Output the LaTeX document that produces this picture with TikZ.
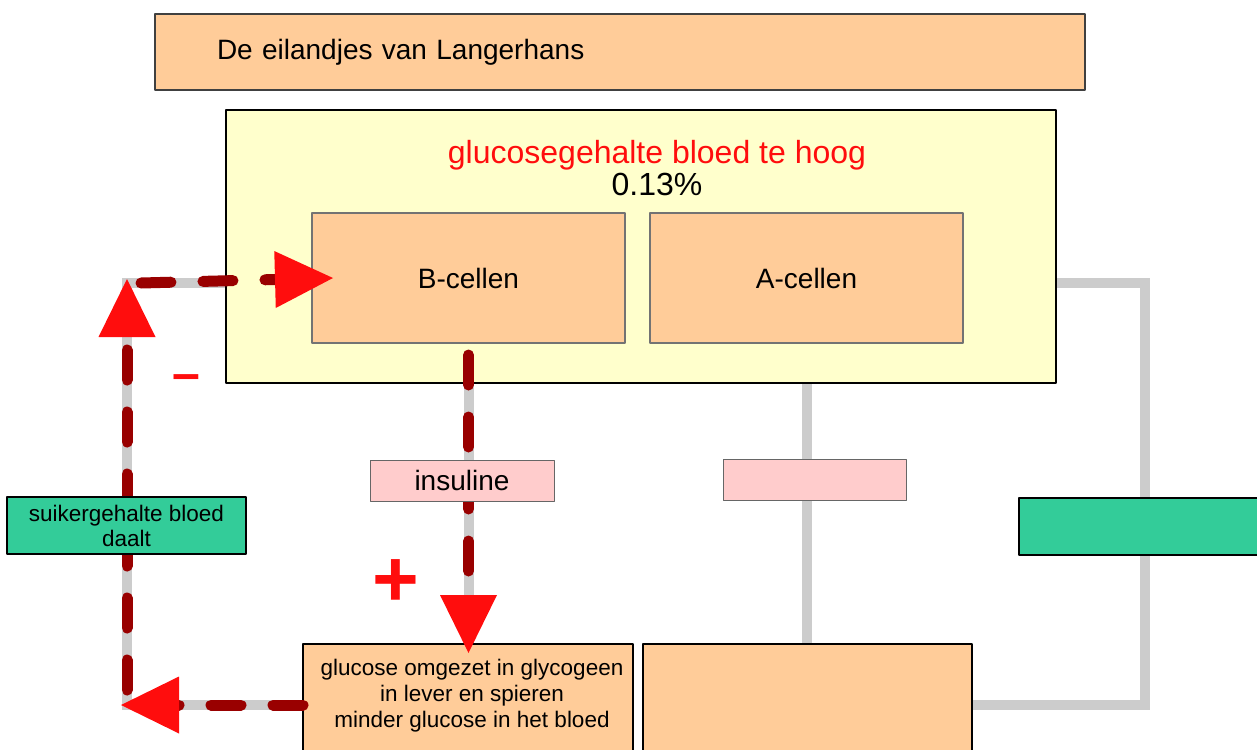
\documentclass[tikz,border=0pt]{standalone}
\usepackage{fontspec}
\setmainfont{Liberation Sans}
\usepackage{tikz}
\usetikzlibrary{arrows.meta,calc,positioning,backgrounds}
\definecolor{ffcc99}{rgb}{1,0.8,0.6}
\definecolor{ffffcc}{rgb}{1,1,0.8}
\definecolor{ffcccc}{rgb}{1,0.8,0.8}
\definecolor{ttcc99}{rgb}{0.2,0.8,0.6}
\definecolor{cccccc}{rgb}{0.8,0.8,0.8}
\definecolor{zzqqqq}{rgb}{0.6,0,0}
\definecolor{ffqqqq}{rgb}{1,0.05,0.05}

\begin{document}
\begin{tikzpicture}[line cap=round,line join=round,x=1pt,y=-1pt,
  vak/.style={draw=black,line width=2.5pt,fill=ffcc99,inner sep=0pt,outer sep=0pt},
  cel/.style={draw=black!55,line width=1.2pt,fill=ffcc99,inner sep=0pt,outer sep=0pt,minimum width=313,minimum height=130,font=\fontsize{28}{32}\selectfont},
  roze/.style={draw=black!60,line width=1pt,fill=ffcccc,inner sep=0pt,outer sep=0pt,minimum height=41,font=\fontsize{28}{32}\selectfont},
  groen/.style={draw=black,line width=2.5pt,fill=ttcc99,inner sep=0pt,outer sep=0pt,minimum height=57,align=center,font=\fontsize{22.5}{25}\selectfont},
  grijs/.style={draw=cccccc,line width=10pt},
  rood/.style={draw=zzqqqq,line width=11pt,dash pattern=on 30pt off 32pt,-{Triangle[width=57pt,length=58pt,line width=0pt,fill=ffqqqq,color=ffqqqq]}}]
                    \useasboundingbox (0,0) rectangle (1257,749);
                    \clip (0,0) rectangle (1257,749);
                    \node[vak,draw=black!75,line width=1.5pt,minimum height=76,text width=806pt,inner xsep=62pt,align=left,font=\fontsize{28}{32}\selectfont] (titel) at (620,52) {De eilandjes van Langerhans};
                    \node[vak,fill=ffffcc,minimum width=830,minimum height=273] (eiland) at (641,246.5) {};
                    \node[align=center,font=\fontsize{32}{32}\selectfont] (hoog) at (657,168) {\textcolor{ffqqqq}{glucosegehalte bloed te hoog}\\0.13\%};
                    \node[cel] (bcel) at (468.5,278) {B-cellen};
                    \node[cel] (acel) at (806.5,278) {A-cellen};
                    \node[vak,minimum width=330,minimum height=156] (omzet) at (468,722) {};
                    \node[align=center,font=\fontsize{22.5}{26}\selectfont] (omzettekst) at (472,696) {glucose omgezet in glycogeen\\in lever en spieren\\minder glucose in het bloed};
                    \node[vak,minimum width=329,minimum height=156] (rest) at (807.5,722) {};
                    \coordinate (hoekLB) at (127,283);
                    \coordinate (hoekLO) at (127,705);
                    \coordinate (hoekRB) at (1145,283);
                    \coordinate (hoekRO) at (1145,705);
                    % grijze verbindingen
                    \begin{scope}[on background layer]
                    \draw[grijs] (bcel.west |- hoekLB) -- (hoekLB) -- (hoekLO) -- (omzet.west |- hoekLO);
                    \draw[grijs] (bcel.south) -- (bcel.south |- omzet.north);
                    \draw[grijs] (acel.south) -- (acel.south |- rest.north);
                    \draw[grijs] (eiland.east |- hoekRB) -- (hoekRB) -- (hoekRO) -- (rest.east |- hoekRO);
                    \end{scope}
                    % terugkoppeling
                    \draw[rood] (omzet.west |- hoekLO) -- ($(hoekLO)+(-6,0)$);
                    \draw[rood] ($(hoekLO)+(0,-15)$) -- ($(hoekLB)+(0,-4)$);
                    \draw[rood] ($(hoekLB)+(14,0)$) -- ($(bcel.west)+(21,0)$);
                    \draw[rood] ($(bcel.south)+(0,12)$) -- ($(bcel.south |- omzet.north)+(0,9)$);
                    \node[roze,minimum width=184] (insuline) at (462,480.5) {insuline};
                    \node[roze,minimum width=183] (glucagon) at (814.5,480) {};
                    \node[groen,minimum width=239] (daalt) at (126.5,525.5) {suikergehalte bloed\\daalt};
                    \node[groen,minimum width=282] (stijgt) at (1160,526.5) {};
                    \node[text=ffqqqq,font=\fontsize{50}{50}\selectfont\bfseries] (min) at (186,383) {\textendash};
                    \node[text=ffqqqq,font=\fontsize{80}{80}\selectfont\bfseries] (plus) at (396,583) {+};
                \end{tikzpicture}
\end{document}
